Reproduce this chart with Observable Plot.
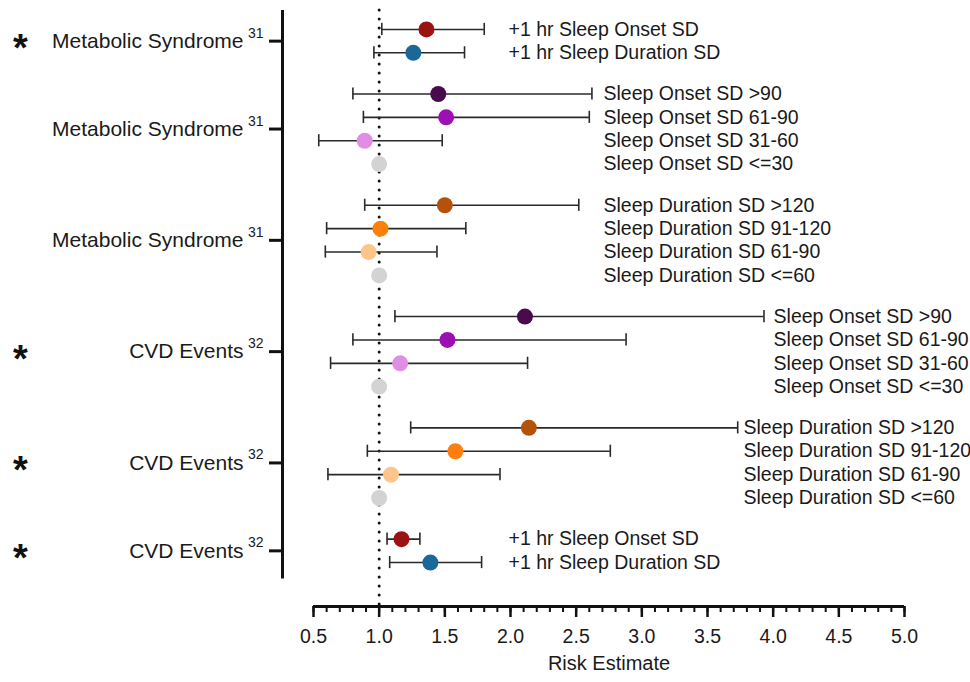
<!DOCTYPE html>
<html>
<head>
<meta charset="utf-8">
<script src="https://cdn.jsdelivr.net/npm/d3@7"></script>
<script src="https://cdn.jsdelivr.net/npm/@observablehq/plot@0.6"></script>
<style>
  html, body { margin: 0; padding: 0; background: #fff; }
  #chart svg { display: block; }
</style>
</head>
<body>
<div id="chart"></div>
<script>
// ---------------- data ----------------
const groupNames = ["Metabolic Syndrome", "Metabolic Syndrome", "Metabolic Syndrome", "CVD Events", "CVD Events", "CVD Events"];
const groupRefs = ["31", "31", "31", "32", "32", "32"];
const groupStars = [true, false, false, true, true, true];

const rowGroup = [0, 0, 1, 1, 1, 1, 2, 2, 2, 2, 3, 3, 3, 3, 4, 4, 4, 4, 5, 5];
const rowLabels = [
  "+1 hr Sleep Onset SD", "+1 hr Sleep Duration SD",
  "Sleep Onset SD >90", "Sleep Onset SD 61-90", "Sleep Onset SD 31-60", "Sleep Onset SD <=30",
  "Sleep Duration SD >120", "Sleep Duration SD 91-120", "Sleep Duration SD 61-90", "Sleep Duration SD <=60",
  "Sleep Onset SD >90", "Sleep Onset SD 61-90", "Sleep Onset SD 31-60", "Sleep Onset SD <=30",
  "Sleep Duration SD >120", "Sleep Duration SD 91-120", "Sleep Duration SD 61-90", "Sleep Duration SD <=60",
  "+1 hr Sleep Onset SD", "+1 hr Sleep Duration SD"
];
const estimates = [1.36, 1.26, 1.45, 1.51, 0.89, 1.00, 1.50, 1.01, 0.92, 1.00, 2.11, 1.52, 1.16, 1.00, 2.14, 1.58, 1.09, 1.00, 1.17, 1.39];
const lowerCI   = [1.02, 0.96, 0.80, 0.88, 0.54, null, 0.89, 0.60, 0.59, null, 1.12, 0.80, 0.63, null, 1.24, 0.91, 0.61, null, 1.06, 1.08];
const upperCI   = [1.80, 1.65, 2.62, 2.60, 1.48, null, 2.52, 1.66, 1.44, null, 3.93, 2.88, 2.13, null, 3.73, 2.76, 1.92, null, 1.31, 1.78];

const xTicks = [0.5, 1.0, 1.5, 2.0, 2.5, 3.0, 3.5, 4.0, 4.5, 5.0];
const xTickLabels = ["0.5", "1.0", "1.5", "2.0", "2.5", "3.0", "3.5", "4.0", "4.5", "5.0"];
const xTitle = "Risk Estimate";
const referenceValue = 1.0;

// ---------------- styles / layout ----------------
const colorKeys = [
  "+1 hr Sleep Onset SD", "+1 hr Sleep Duration SD",
  "Sleep Onset SD >90", "Sleep Onset SD 61-90", "Sleep Onset SD 31-60", "Sleep Onset SD <=30",
  "Sleep Duration SD >120", "Sleep Duration SD 91-120", "Sleep Duration SD 61-90", "Sleep Duration SD <=60"
];
const colorValues = ["#9c1111", "#1b679a", "#4a0a4e", "#9c10b3", "#e08ee3", "#d3d3d3", "#b5520a", "#ff7f0e", "#fdc58a", "#d3d3d3"];
const labelAnchor = [1.985, 2.708, 2.708, 4.003, 3.774, 1.985]; // x where each group's row labels start
const GAP = 0.76;
const yTop = -0.81, yBottom = 24.68;

const rows = rowLabels.map((label, i) => ({
  label, group: rowGroup[i], est: estimates[i], lo: lowerCI[i], hi: upperCI[i],
  p: i + rowGroup[i] * GAP
}));
const ciRows = rows.filter(r => r.lo != null);
const lastP = d3.max(rows, r => r.p);
const groupRows = groupNames.map((name, g) => {
  const ps = rows.filter(r => r.group === g).map(r => r.p);
  return {name, ref: groupRefs[g], star: groupStars[g], center: (d3.min(ps) + d3.max(ps)) / 2};
});
const minorTicks = d3.range(5, 51).map(i => i / 10);
const ink = "#1a1a1a";

const chart = Plot.plot({
  width: 970,
  height: 682,
  marginLeft: 313,
  marginRight: 66,
  marginTop: 10,
  marginBottom: 76,
  x: {domain: [0.5, 5], label: null},
  y: {domain: [yTop, yBottom], reverse: true, label: null},
  color: {domain: colorKeys, range: colorValues},
  style: {fontFamily: "'Liberation Sans', Arial, sans-serif", color: ink, background: "white", overflow: "visible"},
  marks: [
    // reference line
    Plot.ruleX([referenceValue], {stroke: "#111", strokeWidth: 3, strokeDasharray: "0 9", strokeLinecap: "round"}),
    // left vertical axis line
    Plot.ruleX([0.5], {dx: -31, y1: yTop, y2: lastP + 0.7, stroke: "#111", strokeWidth: 3}),
    Plot.axisY({anchor: "left", ticks: groupRows.map(g => g.center), tickSize: 13, dx: -31, strokeWidth: 3, stroke: "#111", tickFormat: () => "", label: null}),
    // bottom x axis
    Plot.ruleY([yBottom], {stroke: "#111", strokeWidth: 3}),
    Plot.axisX({anchor: "bottom", ticks: minorTicks, tickSize: 6, strokeWidth: 2, stroke: "#111", tickFormat: () => "", label: null}),
    Plot.axisX({anchor: "bottom", ticks: xTicks, tickSize: 11, strokeWidth: 2.5, stroke: "#111", tickFormat: d => xTickLabels[xTicks.indexOf(d)], fontSize: 19.5, tickPadding: 12, fill: ink, label: null}),
    Plot.text([xTitle], {frameAnchor: "bottom", text: d => d, dy: 63, fontSize: 20, fill: ink}),
    // error bars
    Plot.ruleY(ciRows, {y: "p", x1: "lo", x2: "hi", stroke: "#2a2a2a", strokeWidth: 1.6}),
    Plot.ruleX(ciRows, {x: "lo", y1: d => d.p - 0.26, y2: d => d.p + 0.26, stroke: "#2a2a2a", strokeWidth: 1.6}),
    Plot.ruleX(ciRows, {x: "hi", y1: d => d.p - 0.26, y2: d => d.p + 0.26, stroke: "#2a2a2a", strokeWidth: 1.6}),
    // points
    Plot.dot(rows, {x: "est", y: "p", r: 8, fill: "label", stroke: null}),
    // row labels
    Plot.text(rows, {x: d => labelAnchor[d.group], y: "p", text: "label", textAnchor: "start", fontSize: 19.5, fill: ink}),
    // group labels
    Plot.text(groupRows, {frameAnchor: "left", y: "center", text: "name", textAnchor: "end", dx: -70, fontSize: 21, fill: ink}),
    Plot.text(groupRows, {frameAnchor: "left", y: "center", text: "ref", textAnchor: "end", dx: -50, dy: -8, fontSize: 14, fill: ink}),
    Plot.text(groupRows.filter(g => g.star), {frameAnchor: "left", y: "center", text: () => "*", textAnchor: "middle", dx: -293, dy: 8, fontSize: 38, fontWeight: "bold", fill: "#111"})
  ]
});
document.getElementById("chart").appendChild(chart);
</script>
</body>
</html>
